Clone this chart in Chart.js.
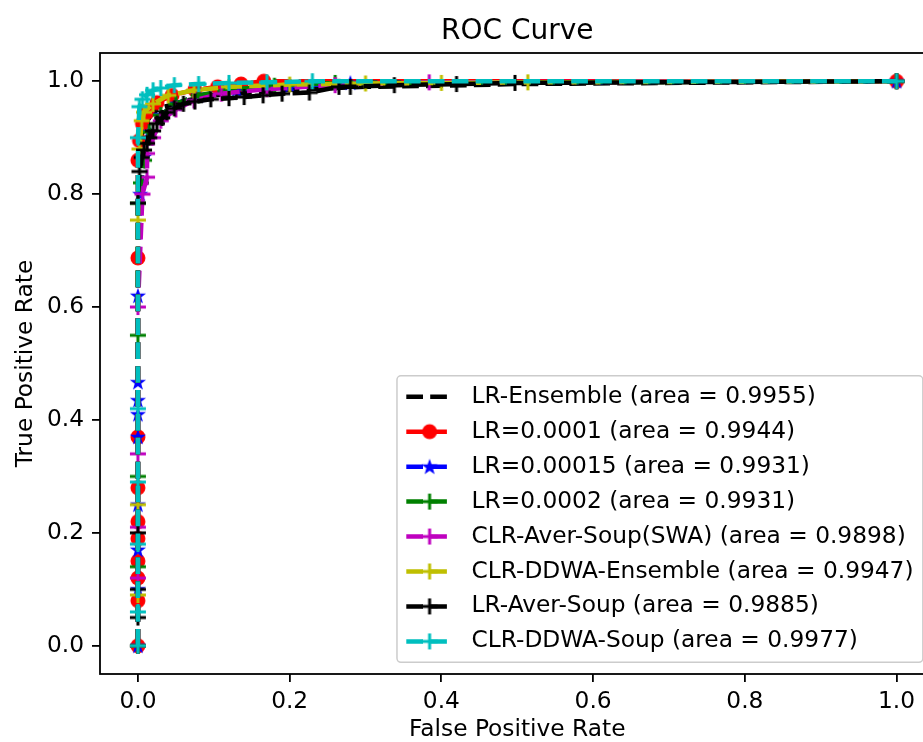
<!DOCTYPE html>
<html>
<head>
<meta charset="utf-8">
<script src="https://cdn.jsdelivr.net/npm/chart.js@4.4.0/dist/chart.umd.min.js"></script>
<style>
  html, body { margin: 0; padding: 0; background: #fff; overflow: hidden; }
  #wrap { width: 945px; height: 742px; }
</style>
</head>
<body>
<div id="wrap"><canvas id="rocChart" width="945" height="742"></canvas></div>
<script>
// tick labels
const tickValues = [0, 0.2, 0.4, 0.6, 0.8, 1.0];

// series names
const seriesLabels = [
  "LR-Ensemble (area = 0.9955)",
  "LR=0.0001 (area = 0.9944)",
  "LR=0.00015 (area = 0.9931)",
  "LR=0.0002 (area = 0.9931)",
  "CLR-Aver-Soup(SWA) (area = 0.9898)",
  "CLR-DDWA-Ensemble (area = 0.9947)",
  "LR-Aver-Soup (area = 0.9885)",
  "CLR-DDWA-Soup (area = 0.9977)",
];

// ROC points (false positive rate / true positive rate)
const fprEnsemble = [0, 0, 0.002, 0.005, 0.01, 0.02, 0.035, 0.06, 0.1, 0.15, 0.2, 0.3, 0.4, 0.5, 1];
const tprEnsemble = [0, 0.86, 0.885, 0.905, 0.925, 0.945, 0.955, 0.965, 0.975, 0.98, 0.985, 0.99, 0.992, 0.995, 1];

const fprLr1 = [0, 0, 0, 0, 0, 0, 0, 0, 0, 0, 0.002, 0.006, 0.012, 0.025, 0.045, 0.075, 0.105, 0.136, 0.166, 1];
const tprLr1 = [0, 0.08, 0.12, 0.15, 0.19, 0.22, 0.28, 0.37, 0.687, 0.86, 0.895, 0.925, 0.945, 0.962, 0.975, 0.985, 0.99, 0.995, 1.0, 1];

const fprLr15 = [0, 0, 0, 0, 0, 0, 0, 0, 0, 0.003, 0.008, 0.015, 0.03, 0.05, 0.08, 0.13, 0.2, 0.28, 1];
const tprLr15 = [0, 0.1, 0.17, 0.25, 0.37, 0.41, 0.435, 0.467, 0.62, 0.8, 0.866, 0.91, 0.94, 0.96, 0.975, 0.985, 0.992, 0.997, 1];

const fprLr2 = [0, 0, 0, 0, 0, 0.004, 0.008, 0.015, 0.03, 0.05, 0.08, 0.12, 0.18, 0.26, 1];
const tprLr2 = [0, 0.14, 0.3, 0.55, 0.784, 0.82, 0.86, 0.91, 0.94, 0.96, 0.975, 0.985, 0.992, 0.997, 1];

const fprSwa = [0, 0, 0, 0, 0, 0.006, 0.012, 0.012, 0.02, 0.03, 0.05, 0.074, 0.11, 0.17, 0.26, 0.384, 1];
const tprSwa = [0, 0.12, 0.21, 0.34, 0.6, 0.8, 0.83, 0.872, 0.9, 0.93, 0.95, 0.966, 0.978, 0.986, 0.993, 0.998, 1];

const fprDdwaEns = [0, 0, 0, 0, 0.002, 0.005, 0.008, 0.02, 0.04, 0.074, 0.12, 0.2, 0.3, 0.4, 0.514, 1];
const tprDdwaEns = [0, 0.09, 0.25, 0.754, 0.88, 0.93, 0.945, 0.96, 0.975, 0.984, 0.99, 0.994, 0.996, 0.997, 0.998, 1];

const fprAver = [0, 0, 0, 0, 0, 0.002, 0.005, 0.008, 0.012, 0.015, 0.02, 0.025, 0.032, 0.038, 0.048, 0.06, 0.075, 0.096, 0.12, 0.14, 0.165, 0.19, 0.226, 0.265, 0.28, 0.338, 0.42, 0.497, 1];
const tprAver = [0, 0.05, 0.1, 0.2, 0.784, 0.84, 0.865, 0.878, 0.89, 0.9, 0.912, 0.925, 0.935, 0.945, 0.952, 0.96, 0.964, 0.968, 0.97, 0.972, 0.975, 0.978, 0.98, 0.99, 0.99, 0.993, 0.995, 0.997, 1];

const fprDdwaSoup = [0, 0, 0, 0, 0, 0, 0.002, 0.006, 0.012, 0.02, 0.03, 0.048, 0.08, 0.12, 0.17, 0.23, 1];
const tprDdwaSoup = [0, 0.06, 0.18, 0.29, 0.42, 0.9, 0.955, 0.968, 0.976, 0.984, 0.988, 0.993, 0.995, 0.997, 0.998, 1.0, 1];

const fprList = [fprEnsemble, fprLr1, fprLr15, fprLr2, fprSwa, fprDdwaEns, fprAver, fprDdwaSoup];
const tprList = [tprEnsemble, tprLr1, tprLr15, tprLr2, tprSwa, tprDdwaEns, tprAver, tprDdwaSoup];
const colors = ["#000000", "#ff0000", "#0000ff", "#008000", "#bf00bf", "#bfbf00", "#000000", "#00bfbf"];
const markers = ["none", "circle", "star", "plus", "plus", "plus", "plus", "plus"];

const FONT = "'DejaVu Sans', sans-serif";
const FS = 23.3;

// small canvases used as point styles (matplotlib-like markers)
function makeMarker(shape, color) {
  const c = document.createElement("canvas");
  c.width = 20;
  c.height = 20;
  const g = c.getContext("2d");
  g.fillStyle = color;
  g.strokeStyle = color;
  if (shape === "circle") {
    g.beginPath();
    g.arc(10, 10, 7.5, 0, Math.PI * 2);
    g.fill();
  } else if (shape === "star") {
    g.beginPath();
    for (let k = 0; k < 10; k++) {
      const r = k % 2 === 0 ? 8.5 : 3.4;
      const a = -Math.PI / 2 + (k * Math.PI) / 5;
      const px = 10 + r * Math.cos(a);
      const py = 10.5 + r * Math.sin(a);
      if (k === 0) g.moveTo(px, py); else g.lineTo(px, py);
    }
    g.closePath();
    g.fill();
  } else if (shape === "plus") {
    g.lineWidth = 3;
    g.beginPath();
    g.moveTo(2, 10); g.lineTo(18, 10);
    g.moveTo(10, 2); g.lineTo(10, 18);
    g.stroke();
  }
  return c;
}

const datasets = seriesLabels.map((label, i) => ({
  label: label,
  data: fprList[i].map((x, j) => ({ x: x, y: tprList[i][j] })),
  showLine: true,
  borderColor: colors[i],
  backgroundColor: colors[i],
  borderWidth: 4.5,
  borderDash: [16.7, 7.2],
  tension: 0,
  pointStyle: markers[i] === "none" ? "circle" : makeMarker(markers[i], colors[i]),
  pointRadius: markers[i] === "none" ? 0 : 6,
  order: seriesLabels.length - i, // later series on top, like matplotlib
}));

// title, full box around the plot and the legend in the lower right corner
const framePlugin = {
  id: "frameAndLegend",
  afterDatasetsDraw(chart) {
    const { ctx, chartArea } = chart;
    ctx.save();
    ctx.strokeStyle = "#000";
    ctx.lineWidth = 1.8;
    ctx.strokeRect(chartArea.left, chartArea.top, chartArea.right - chartArea.left, chartArea.bottom - chartArea.top);

    ctx.fillStyle = "#000";
    ctx.font = "28px " + FONT;
    ctx.textAlign = "center";
    ctx.textBaseline = "alphabetic";
    ctx.fillText("ROC Curve", (chartArea.left + chartArea.right) / 2, chartArea.top - 14);

    const pad = 0.4 * FS, rowH = FS, gap = 0.5 * FS, handleLen = 2 * FS, textPad = 0.8 * FS, axPad = 0.5 * FS;
    ctx.font = FS + "px " + FONT;
    const items = chart.data.datasets;
    const maxW = Math.max(...items.map(d => ctx.measureText(d.label).width));
    const w = pad * 2 + handleLen + textPad + maxW;
    const h = pad * 2 + items.length * rowH + (items.length - 1) * gap;
    const right = chartArea.right - axPad;
    const bottom = chartArea.bottom - axPad;
    const left = right - w;
    const top = bottom - h;

    ctx.beginPath();
    ctx.roundRect(left, top, w, h, 4);
    ctx.fillStyle = "rgba(255,255,255,0.8)";
    ctx.fill();
    ctx.strokeStyle = "#cccccc";
    ctx.lineWidth = 1.5;
    ctx.stroke();

    items.forEach((d, i) => {
      const cy = top + pad + i * (rowH + gap) + rowH / 2;
      const x0 = left + pad;
      ctx.setLineDash(d.borderDash);
      ctx.strokeStyle = d.borderColor;
      ctx.lineWidth = d.borderWidth;
      ctx.beginPath();
      ctx.moveTo(x0, cy);
      ctx.lineTo(x0 + handleLen, cy);
      ctx.stroke();
      ctx.setLineDash([]);
      if (d.pointRadius > 0) {
        const m = d.pointStyle;
        ctx.drawImage(m, x0 + handleLen / 2 - m.width / 2, cy - m.height / 2);
      }
      ctx.fillStyle = "#000";
      ctx.textBaseline = "middle";
      ctx.textAlign = "left";
      ctx.fillText(d.label, x0 + handleLen + textPad, cy);
    });
    ctx.restore();
  },
};

const ctx = document.getElementById("rocChart").getContext("2d");
const rocChart = new Chart(ctx, {
  type: "scatter",
  data: { datasets: datasets },
  plugins: [framePlugin],
  options: {
    responsive: false,
    animation: false,
    devicePixelRatio: 1,
    events: [],
    // canvas is a bit wider than the page: the right edge of the plot box is cut off, as in the original
    layout: { padding: { top: 53, right: 0, bottom: 0, left: 0 } },
    plugins: {
      legend: { display: false },
      tooltip: { enabled: false },
      title: { display: false },
    },
    scales: {
      x: {
        type: "linear",
        min: -0.05,
        max: 1.05,
        afterBuildTicks: (s) => { s.ticks = tickValues.map(v => ({ value: v })); },
        afterFit: (s) => { s.height = 68; },
        ticks: {
          callback: (v) => Number(v).toFixed(1),
          color: "#000",
          font: { family: FONT, size: FS, lineHeight: 1 },
          padding: 8,
          maxRotation: 0,
          autoSkip: false,
        },
        grid: { drawOnChartArea: false, drawTicks: true, tickLength: 8, color: "#000", lineWidth: 1.8 },
        border: { display: false },
        title: {
          display: true,
          text: "False Positive Rate",
          color: "#000",
          font: { family: FONT, size: FS, lineHeight: 1 },
          padding: { top: 0, bottom: 0 },
        },
      },
      y: {
        type: "linear",
        min: -0.05,
        max: 1.05,
        afterBuildTicks: (s) => { s.ticks = tickValues.map(v => ({ value: v })); },
        afterFit: (s) => { s.width = 100; },
        ticks: {
          callback: (v) => Number(v).toFixed(1),
          color: "#000",
          font: { family: FONT, size: FS, lineHeight: 1 },
          padding: 8,
          autoSkip: false,
        },
        grid: { drawOnChartArea: false, drawTicks: true, tickLength: 8, color: "#000", lineWidth: 1.8 },
        border: { display: false },
        title: {
          display: true,
          text: "True Positive Rate",
          color: "#000",
          font: { family: FONT, size: FS, lineHeight: 1 },
          padding: { top: 14, bottom: 0 },
        },
      },
    },
  },
});
</script>
</body>
</html>
